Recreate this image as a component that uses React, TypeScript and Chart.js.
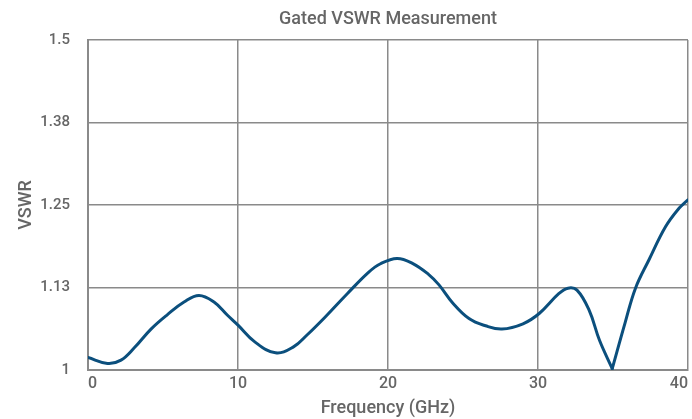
import React, { useEffect, useRef } from "react";
import { Chart, registerables } from "chart.js";

Chart.register(...registerables);

const TITLE = "Gated VSWR Measurement";
const X_TITLE = "Frequency (GHz)";
const Y_TITLE = "VSWR";

const frequencyGHz = [
  0, 1.3, 2.2, 3.1, 4.2, 5.3, 6.4, 7.4, 8.4, 9.3, 10, 11.1, 12.5, 13.7, 14.6,
  15.8, 17.3, 18.7, 19.5, 20.6, 21.6, 22.7, 23.4, 24.3, 25.4, 26.5, 27.6, 29,
  30.1, 31.4, 32, 32.6, 33.4, 34.1, 34.95, 35.8, 36.5, 37.4, 38.5, 39.4, 40,
];
const vswr = [
  1.019, 1.01, 1.015, 1.034, 1.062, 1.084, 1.103, 1.113, 1.103, 1.083, 1.068,
  1.043, 1.026, 1.035, 1.053, 1.08, 1.116, 1.148, 1.161, 1.169, 1.162, 1.145,
  1.129, 1.102, 1.078, 1.067, 1.062, 1.07, 1.086, 1.116, 1.124, 1.121, 1.091,
  1.045, 1.002, 1.071, 1.124, 1.167, 1.217, 1.245, 1.258,
];

const X_MIN = 0;
const X_MAX = 40;
const X_STEP = 10;
const Y_MIN = 1;
const Y_MAX = 1.5;
const Y_STEP = 0.125;

const LINE_COLOR = "#0b4f7d";
const GRID_COLOR = "#8a8a8a";
const TEXT_COLOR = "#666666";
const FONT = "Roboto, 'DejaVu Sans', sans-serif";

export default function App() {
  const canvasRef = useRef<HTMLCanvasElement | null>(null);

  useEffect(() => {
    document.body.style.margin = "0";
    const canvas = canvasRef.current;
    if (!canvas) return;
    const points = frequencyGHz.map((x, i) => ({ x, y: vswr[i] }));
    // the sharp notch: the curve is drawn as two smooth pieces meeting there
    const notch = vswr.indexOf(Math.min(...vswr));
    const left = points.slice(0, notch + 1);
    const right = points.slice(notch);
    const ds = (data: { x: number; y: number }[]) => ({
      data,
      borderColor: LINE_COLOR,
      borderWidth: 3,
      pointRadius: 0,
      fill: false,
      tension: 0.4,
      borderJoinStyle: "round" as const,
      borderCapStyle: "round" as const,
    });
    const chart = new Chart(canvas, {
      type: "line",
      data: { datasets: [ds(left), ds(right)] },
      options: {
        animation: false,
        responsive: true,
        maintainAspectRatio: false,
        layout: { padding: { left: 0, right: 3, top: 0, bottom: 0 } },
        plugins: {
          legend: { display: false },
          tooltip: { enabled: false },
          title: {
            display: true,
            text: TITLE,
            fullSize: false,
            color: TEXT_COLOR,
            font: { family: FONT, size: 18, weight: 500 },
            padding: { top: 8.4, bottom: 10 },
          },
        },
        scales: {
          x: {
            type: "linear",
            min: X_MIN,
            max: X_MAX,
            afterFit: (s: any) => {
              s.height = 49;
            },
            ticks: {
              stepSize: X_STEP,
              align: "inner",
              color: TEXT_COLOR,
              font: { family: FONT, size: 16, weight: 500 },
              padding: 4,
              maxRotation: 0,
            },
            grid: { color: GRID_COLOR, lineWidth: 1.5, drawTicks: false },
            border: { color: GRID_COLOR, width: 2 },
            title: {
              display: true,
              text: X_TITLE,
              color: TEXT_COLOR,
              font: { family: FONT, size: 18, weight: 500 },
              padding: { top: 0, bottom: 0 },
            },
          },
          y: {
            type: "linear",
            min: Y_MIN,
            max: Y_MAX,
            afterFit: (s: any) => {
              s.width = 88;
            },
            ticks: {
              stepSize: Y_STEP,
              color: TEXT_COLOR,
              font: { family: FONT, size: 15, weight: 500 },
              padding: 18,
              callback: (v: any) => String(parseFloat(Number(v).toFixed(2))),
            },
            grid: { color: GRID_COLOR, lineWidth: 1.5, drawTicks: false },
            border: { color: GRID_COLOR, width: 2 },
            title: {
              display: true,
              text: Y_TITLE,
              color: TEXT_COLOR,
              font: { family: FONT, size: 18, weight: 500 },
              padding: { top: 16, bottom: 0 },
            },
          },
        },
      },
    });
    return () => chart.destroy();
  }, []);

  return (
    <div style={{ position: "relative", width: 692, height: 419 }}>
      <canvas ref={canvasRef} />
    </div>
  );
}
